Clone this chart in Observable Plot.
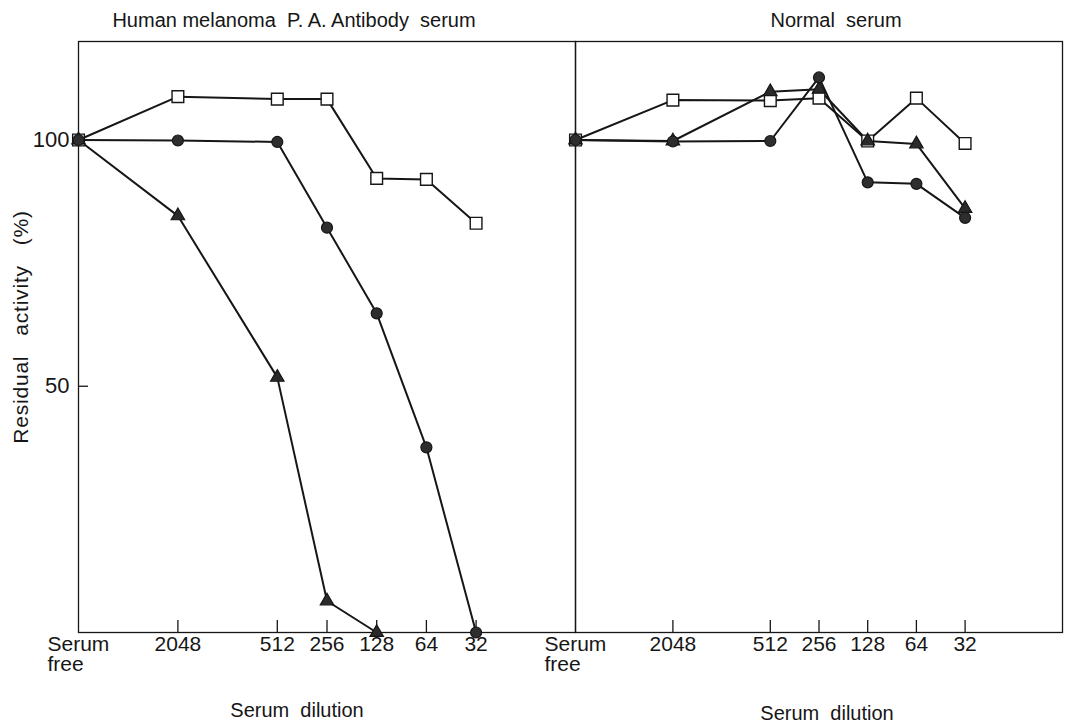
<!DOCTYPE html>
<html>
<head>
<meta charset="utf-8">
<script src="https://cdn.jsdelivr.net/npm/d3@7"></script>
<script src="https://cdn.jsdelivr.net/npm/@observablehq/plot@0.6"></script>
<style>
  body { margin: 0; background: #fff; }
  #wrap { display: flex; width: 1074px; height: 727px; }
  #wrap svg { overflow: visible; }
</style>
</head>
<body>
<div id="wrap"></div>
<script>
// ---- data ----
const dilutions = ["Serum free", 2048, 512, 256, 128, 64, 32];
const antibodySquare   = [100, 108.8, 108.3, 108.3, 92.2, 92.0, 83.1];
const antibodyCircle   = [100, 99.9, 99.6, 82.2, 64.8, 37.6, 0];
const antibodyTriangle = [100, 84.6, 51.8, 6.4, 0, null, null];
const normalSquare     = [100, 108.1, 108.0, 108.5, 99.8, 108.5, 99.3];
const normalTriangle   = [100, 99.8, 109.8, 110.3, 99.8, 99.2, 86.1];
const normalCircle     = [100, 99.7, 99.8, 112.7, 91.4, 91.1, 84.2];
const numericTicks = [2048, 512, 256, 128, 64, 32];
const yTicks = [50, 100];
const panelTitles = ["Human melanoma  P. A. Antibody  serum", "Normal  serum"];
const xTitle = "Serum  dilution";
const yTitle = "Residual   activity   (%)";
const serumFreeLabel = "Serum\nfree";
// "Serum free" sits on the dilution axis where a 1:8192 dilution would be
const SERUM_FREE = 8192;
const X_MIN = 8;
const Y_DOMAIN = [0, 120];

const rows = values => dilutions
  .map((d, i) => ({dil: d === "Serum free" ? SERUM_FREE : d, value: values[i]}))
  .filter(r => r.value != null);

const FONT = "'Liberation Sans', Arial, sans-serif";
const INK = "#161616";
const HEIGHT = 727, M_TOP = 41, M_BOTTOM = 95;
const FRAME_H = HEIGHT - M_TOP - M_BOTTOM;
const TICK_PX = 12;

function panel({sq, tri, cir, title, titleDx, xTitleDx, xTitleDy, width, marginLeft, marginRight, showY}) {
  const frameW = width - marginLeft - marginRight;
  // tick lengths expressed through the scales (pixels -> data units)
  const tickYLen = TICK_PX * (Y_DOMAIN[1] - Y_DOMAIN[0]) / FRAME_H;
  const tickXEnd = SERUM_FREE / Math.pow(SERUM_FREE / X_MIN, 10 / frameW);
  const marks = [
    Plot.frame({stroke: INK, strokeWidth: 1.3}),
    // inward tick marks on the dilution axis
    Plot.ruleX(numericTicks, {x: d => d, y1: Y_DOMAIN[0], y2: Y_DOMAIN[0] + tickYLen, stroke: INK, strokeWidth: 1.3}),
    Plot.axisX(numericTicks, {anchor: "bottom", tickSize: 0, tickPadding: 4, tickFormat: d => String(d),
      label: null, fontSize: 21, fill: INK}),
    Plot.axisX([SERUM_FREE], {anchor: "bottom", tickSize: 0, tickPadding: 4, tickFormat: () => serumFreeLabel,
      label: null, fontSize: 21, textAnchor: "start", dx: -31, lineHeight: 0.95, fill: INK}),
    Plot.text([title], {frameAnchor: "top", textAnchor: "middle", lineAnchor: "middle", dy: -21, dx: titleDx, fontSize: 20, fill: INK}),
    Plot.text([xTitle], {frameAnchor: "bottom", textAnchor: "middle", lineAnchor: "middle", dy: xTitleDy, dx: xTitleDx, fontSize: 20, fill: INK}),
    Plot.line(rows(sq), {x: "dil", y: "value", stroke: INK, strokeWidth: 2}),
    Plot.line(rows(tri), {x: "dil", y: "value", stroke: INK, strokeWidth: 2}),
    Plot.line(rows(cir), {x: "dil", y: "value", stroke: INK, strokeWidth: 2}),
    Plot.dot(rows(sq), {x: "dil", y: "value", symbol: "square", r: 6.6, fill: "white", stroke: INK, strokeWidth: 1.4}),
    Plot.dot(rows(tri), {x: "dil", y: "value", symbol: "triangle", r: 5, fill: "#2a2a2a", stroke: INK, strokeWidth: 1.2}),
    Plot.dot(rows(cir), {x: "dil", y: "value", symbol: "circle", r: 5.5, fill: "#2e2e2e", stroke: INK, strokeWidth: 1.2})
  ];
  if (showY) {
    marks.unshift(
      Plot.ruleY(yTicks.filter(v => v !== 100), {y: d => d, x1: SERUM_FREE, x2: tickXEnd, stroke: INK, strokeWidth: 1.3})
    );
    marks.push(
      Plot.axisY(yTicks, {anchor: "left", tickSize: 0, tickPadding: 9, label: null, fontSize: 22, fill: INK}),
      Plot.text([yTitle], {frameAnchor: "left", textAnchor: "middle", lineAnchor: "middle", dx: -57, dy: -10, rotate: -90, fontSize: 21, fill: INK})
    );
  }
  return Plot.plot({
    width, height: HEIGHT,
    marginLeft, marginRight, marginTop: M_TOP, marginBottom: M_BOTTOM,
    style: {fontFamily: FONT, fontSize: "20px", background: "transparent", overflow: "visible", color: INK},
    x: {type: "log", base: 2, domain: [SERUM_FREE, X_MIN], axis: null},
    y: {domain: Y_DOMAIN, axis: null},
    marks
  });
}

const wrap = document.getElementById("wrap");
const left = panel({
  sq: antibodySquare, tri: antibodyTriangle, cir: antibodyCircle,
  title: panelTitles[0], titleDx: -33, xTitleDx: -30, xTitleDy: 78,
  width: 575, marginLeft: 78, marginRight: 0, showY: true
});
const right = panel({
  sq: normalSquare, tri: normalTriangle, cir: normalCircle,
  title: panelTitles[1], titleDx: 17, xTitleDx: 8, xTitleDy: 81,
  width: 499, marginLeft: 0, marginRight: 12, showY: false
});
wrap.append(left, right);
// slightly wider letter spacing for the vertical title, as in the reference
left.querySelectorAll("text").forEach(t => {
  if (t.textContent === yTitle) t.setAttribute("letter-spacing", "0.8");
});
</script>
</body>
</html>
